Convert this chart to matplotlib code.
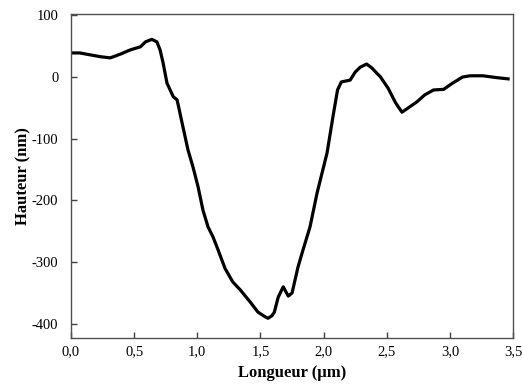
import matplotlib
matplotlib.use("Agg")
import matplotlib.pyplot as plt

# Profile data (length in µm, height in nm)
longueur = [0.00, 0.07, 0.23, 0.31, 0.39, 0.47, 0.55, 0.59, 0.64, 0.68, 0.705, 0.728,
            0.76, 0.81, 0.84, 0.88, 0.926, 0.966, 1.006, 1.045, 1.085, 1.124, 1.164,
            1.219, 1.28, 1.34, 1.42, 1.48, 1.54, 1.56, 1.59, 1.61, 1.64, 1.68, 1.72,
            1.75, 1.797, 1.837, 1.892, 1.948, 2.027, 2.074, 2.11, 2.14, 2.21, 2.25,
            2.29, 2.34, 2.38, 2.45, 2.51, 2.57, 2.62, 2.67, 2.74, 2.80, 2.87, 2.95,
            3.02, 3.10, 3.16, 3.26, 3.37, 3.46]
hauteur = [39, 39, 33, 31, 37, 44, 49, 57, 61, 57, 44, 24,
           -10, -32, -37, -75, -118, -146, -178, -216, -243, -259, -280,
           -310, -332, -345, -365, -381, -389, -391, -387, -381, -357, -340, -355,
           -350, -308, -280, -243, -188, -123, -64, -21, -8, -5, 8,
           16, 21, 15, 0, -18, -42, -57, -50, -40, -29, -21, -20,
           -10, 0, 2, 2, -1, -3]

xticks = [0.0, 0.5, 1.0, 1.5, 2.0, 2.5, 3.0, 3.5]
xticklabels = ["0,0", "0,5", "1,0", "1,5", "2,0", "2,5", "3,0", "3,5"]
yticks = [-400, -300, -200, -100, 0, 100]

plt.rcParams['font.family'] = ['Liberation Serif', 'DejaVu Serif']
plt.rcParams['axes.unicode_minus'] = False

fig = plt.figure(figsize=(5.22, 3.91), dpi=100)
ax = fig.add_axes([0.136, 0.1355, 0.847, 0.8285])
ax.plot(longueur, hauteur, color='black', lw=2.3, solid_joinstyle='round')
ax.set_xlim(0, 3.5)
ax.set_ylim(-423, 102)
ax.set_xticks(xticks)
ax.set_xticklabels(xticklabels)
ax.set_yticks(yticks)
ax.tick_params(direction='in', length=4, width=1, colors='#404040', labelsize=10.5,
               labelcolor='black')
ax.tick_params(axis='y', pad=9)
ax.tick_params(axis='x', pad=5)
for s in ax.spines.values():
    s.set_color('#505050')
    s.set_linewidth(1.0)
ax.set_xlabel('Longueur (µm)', fontsize=12, fontweight='bold', labelpad=5)
ax.set_ylabel('Hauteur (nm)', fontsize=12, fontweight='bold', labelpad=0)
fig.savefig('out.png', dpi=100)
